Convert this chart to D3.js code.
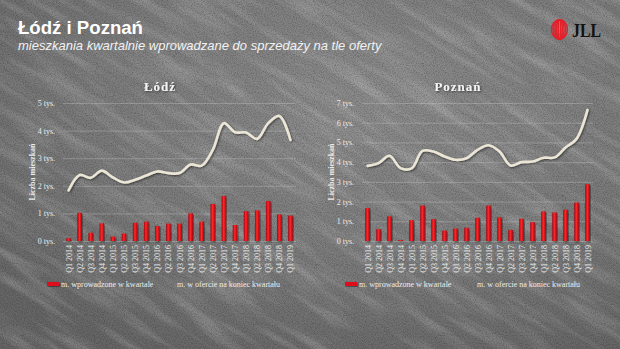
<!DOCTYPE html>
<html>
<head>
<meta charset="utf-8">
<script src="https://cdn.jsdelivr.net/npm/d3@7/dist/d3.min.js"></script>
<style>
  html, body { margin: 0; padding: 0; background: #777; }
  svg { display: block; }
</style>
</head>
<body>
<svg id="chart" width="620" height="349"></svg>
<script>
// Quarters shown on both panels
const quarters = ["Q1 2014","Q2 2014","Q3 2014","Q4 2014","Q1 2015","Q2 2015","Q3 2015","Q4 2015",
  "Q1 2016","Q2 2016","Q3 2016","Q4 2016","Q1 2017","Q2 2017","Q3 2017","Q4 2017",
  "Q1 2018","Q2 2018","Q3 2018","Q4 2018","Q1 2019"];

// Łódź, thousands of flats
const lodzLaunched = [0.10,1.02,0.30,0.64,0.16,0.27,0.66,0.70,0.54,0.63,0.63,1.00,0.70,1.34,1.63,0.58,1.08,1.11,1.45,0.96,0.92];
const lodzOffer    = [1.83,2.39,2.29,2.55,2.30,2.12,2.22,2.37,2.52,2.46,2.46,2.77,2.73,3.30,4.27,3.94,3.93,3.70,4.27,4.53,3.66];
const lodzTicks    = [0,1,2,3,4,5];

// Poznań, thousands of flats
const poznanLaunched = [1.67,0.60,1.25,0.05,1.06,1.80,1.11,0.53,0.63,0.67,1.18,1.80,1.20,0.56,1.13,0.96,1.50,1.45,1.59,1.95,2.88];
const poznanOffer    = [3.81,3.95,4.32,3.70,3.68,4.57,4.54,4.29,4.12,4.20,4.62,4.86,4.54,3.83,4.00,4.03,4.22,4.24,4.74,5.18,6.65];
const poznanTicks    = [0,1,2,3,4,5,6,7];

const legendLabels = ["m. wprowadzone w kwartale", "m. w ofercie na koniec kwartału"];

const svg = d3.select("#chart");
const W = 620, H = 349;
const defs = svg.append("defs");

// Chalkboard background
const bg = defs.append("radialGradient").attr("id", "bgGrad")
  .attr("cx", "60%").attr("cy", "30%").attr("r", "80%");
bg.append("stop").attr("offset", "0%").attr("stop-color", "#8c8c8c");
bg.append("stop").attr("offset", "60%").attr("stop-color", "#7a7a7a");
bg.append("stop").attr("offset", "100%").attr("stop-color", "#666666");

const chalk = defs.append("filter").attr("id", "chalk").attr("x", 0).attr("y", 0).attr("width", 1).attr("height", 1);
chalk.append("feTurbulence").attr("type", "fractalNoise").attr("baseFrequency", "0.012 0.09")
  .attr("numOctaves", 3).attr("seed", 7).attr("result", "noise");
chalk.append("feColorMatrix").attr("in", "noise").attr("type", "matrix")
  .attr("values", "0 0 0 0 1  0 0 0 0 1  0 0 0 0 1  0 0 0 0.9 -0.38");

const grain = defs.append("filter").attr("id", "grain").attr("x", 0).attr("y", 0).attr("width", 1).attr("height", 1);
grain.append("feTurbulence").attr("type", "fractalNoise").attr("baseFrequency", "0.9")
  .attr("numOctaves", 2).attr("seed", 3).attr("result", "n");
grain.append("feColorMatrix").attr("in", "n").attr("type", "matrix")
  .attr("values", "0 0 0 0 0  0 0 0 0 0  0 0 0 0 0  0 0 0 0.5 -0.2");

svg.append("rect").attr("width", W).attr("height", H).attr("fill", "url(#bgGrad)");
svg.append("g").attr("transform", "rotate(32 310 175)")
  .append("rect").attr("x", -250).attr("y", -250).attr("width", 1120).attr("height", 850)
  .attr("filter", "url(#chalk)").attr("opacity", 0.5);
svg.append("rect").attr("width", W).attr("height", H).attr("filter", "url(#grain)");

// Shared styles
const barGrad = defs.append("linearGradient").attr("id", "barGrad").attr("x1", 0).attr("x2", 1).attr("y1", 0).attr("y2", 0);
barGrad.append("stop").attr("offset", "0%").attr("stop-color", "#a8000c");
barGrad.append("stop").attr("offset", "45%").attr("stop-color", "#ff2a2a");
barGrad.append("stop").attr("offset", "100%").attr("stop-color", "#b0000e");

const shadow = defs.append("filter").attr("id", "shadow").attr("x", "-20%").attr("y", "-20%").attr("width", "140%").attr("height", "140%");
shadow.append("feDropShadow").attr("dx", 1).attr("dy", 1).attr("stdDeviation", 0.8)
  .attr("flood-color", "#000").attr("flood-opacity", 0.55);

const serif = "'Liberation Serif', 'DejaVu Serif', serif";
const sans = "'Liberation Sans', Arial, sans-serif";

// Header
svg.append("text").attr("x", 18).attr("y", 34)
  .attr("font-family", sans).attr("font-weight", "bold").attr("font-size", 18.6)
  .attr("fill", "#ffffff").text("Łódź i Poznań");
svg.append("text").attr("x", 18).attr("y", 50)
  .attr("font-family", sans).attr("font-style", "italic").attr("font-size", 13)
  .attr("fill", "#f2f2f2").text("mieszkania kwartalnie wprowadzane do sprzedaży na tle oferty");

// Logo
const logo = svg.append("g").attr("transform", "translate(559.5,29.5)");
[8.0, 6.3, 4.6, 2.9, 1.2].forEach(rx => {
  logo.append("ellipse").attr("rx", rx).attr("ry", 9.8).attr("fill", "none")
    .attr("stroke", "#e4202a").attr("stroke-width", 1.4);
});
svg.append("text").attr("x", 572).attr("y", 36.5)
  .attr("font-family", serif).attr("font-weight", "bold").attr("font-size", 19)
  .attr("textLength", 29).attr("lengthAdjust", "spacingAndGlyphs")
  .attr("fill", "#111").text("JLL");

function panel(opts) {
  const g = svg.append("g");
  const x = d3.scaleBand().domain(quarters).range([opts.x0, opts.x1]).paddingInner(0.6).paddingOuter(0.3);
  const xc = d => x(d) + x.bandwidth() / 2;
  const y = d3.scaleLinear().domain([0, d3.max(opts.ticks)]).range([241, 103]);

  // Title
  g.append("text").attr("x", opts.titleX).attr("y", 91).attr("text-anchor", "middle")
    .attr("font-family", serif).attr("font-weight", "bold").attr("font-size", 13)
    .attr("letter-spacing", 1).attr("fill", "#f4f4f4").attr("filter", "url(#shadow)")
    .text(opts.title);

  // Value axis with gridlines
  const yAxis = g.append("g").attr("transform", `translate(${opts.x0},0)`)
    .call(d3.axisLeft(y).tickValues(opts.ticks).tickFormat(d => d + " tys.")
      .tickSize(-(opts.x1 - opts.x0)).tickPadding(8));
  yAxis.select(".domain").remove();
  yAxis.selectAll("line").attr("stroke", "#c8c8c8").attr("stroke-opacity", 0.45).attr("stroke-width", 0.8);
  yAxis.selectAll("text").attr("font-family", serif).attr("font-size", 8).attr("fill", "#ececec");

  // Axis title
  g.append("text").attr("transform", `translate(${opts.titleAxisX},172) rotate(-90)`)
    .attr("text-anchor", "middle").attr("font-family", serif).attr("font-weight", "bold")
    .attr("font-size", 8).attr("fill", "#ececec").text("Liczba mieszkań");

  // Bars: flats launched in the quarter
  g.append("g").selectAll("rect").data(opts.launched).join("rect")
    .attr("x", (d, i) => x(quarters[i]))
    .attr("y", d => y(d))
    .attr("width", x.bandwidth())
    .attr("height", d => y(0) - y(d))
    .attr("fill", "url(#barGrad)")
    .attr("filter", "url(#shadow)");

  // Line: flats on offer at quarter end
  const line = d3.line().x((d, i) => xc(quarters[i])).y(d => y(d)).curve(d3.curveCatmullRom.alpha(0.5));
  g.append("path").datum(opts.offer).attr("d", line)
    .attr("fill", "none").attr("stroke", "#ebe6d6").attr("stroke-width", 2.6)
    .attr("stroke-linecap", "round").attr("filter", "url(#shadow)");

  // Category axis
  const xAxis = g.append("g").attr("transform", "translate(0,241)")
    .call(d3.axisBottom(x).tickSize(0).tickPadding(0));
  xAxis.select(".domain").remove();
  xAxis.selectAll("text")
    .attr("font-family", serif).attr("font-size", 8).attr("fill", "#ececec")
    .attr("text-anchor", "end").attr("dy", 0)
    .attr("transform", "translate(3,4) rotate(-90)");

  // Legend
  const lg = g.append("g").attr("transform", `translate(${opts.legendX},284)`);
  lg.append("rect").attr("x", 0).attr("y", -2).attr("width", 12).attr("height", 4)
    .attr("fill", "#e0101c").attr("filter", "url(#shadow)");
  lg.append("text").attr("x", 14).attr("y", 3).attr("font-family", serif).attr("font-size", 8)
    .attr("fill", "#ececec").text(legendLabels[0]);
  lg.append("line").attr("x1", opts.legendGap).attr("x2", opts.legendGap + 12).attr("y1", 0).attr("y2", 0)
    .attr("stroke", "#ebe6d6").attr("stroke-width", 2).attr("filter", "url(#shadow)");
  lg.append("text").attr("x", opts.legendGap + 14).attr("y", 3).attr("font-family", serif).attr("font-size", 8)
    .attr("fill", "#ececec").text(legendLabels[1]);
}

panel({ title: "Łódź", titleX: 160, x0: 63, x1: 296, ticks: lodzTicks,
  launched: lodzLaunched, offer: lodzOffer, titleAxisX: 35, legendX: 47, legendGap: 116 });
panel({ title: "Poznań", titleX: 458, x0: 362, x1: 593, ticks: poznanTicks,
  launched: poznanLaunched, offer: poznanOffer, titleAxisX: 334, legendX: 345, legendGap: 118 });
</script>
</body>
</html>
